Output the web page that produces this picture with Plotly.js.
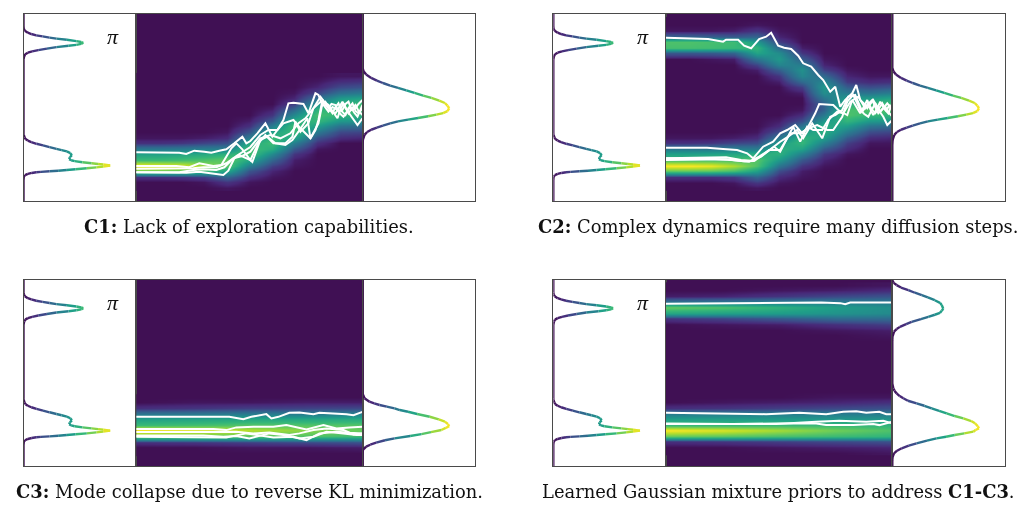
<!DOCTYPE html>
<html><head><meta charset="utf-8">
<script src="https://cdn.plot.ly/plotly-3.0.1.min.js"></script>
<style>html,body{margin:0;padding:0;background:#fff}#c{width:1024px;height:506px;filter:blur(.35px)}</style>
</head><body><div id="c"></div>
<script>
// ---------- densities: y position (0-100) and density (peak = 1) ----------
const priorY = [100,93,92,91,90,89.3,88.6,88,87.4,86.8,86.2,85.5,85,84.6,84,83.5,83,82.3,81.5,80.7,80,79.3,78.5,77.5,75.7,
  36,35.4,34,33.1,32.3,31.5,30.6,29.7,28.8,27.9,27.2,26.5,25.6,24.5,23.4,22.4,21.8,21.3,20.7,20.2,19.8,19.5,19,18.4,18,17.5,17,16.6,16.2,15.9,15.6,15.4,15,14.5,13.8,13.1,11.3,0];
const priorD = [0,0,.005,.015,.05,.09,.147,.22,.3,.38,.5,.61,.665,.69,.665,.61,.52,.38,.27,.17,.1,.05,.02,.008,0,
  0,.003,.012,.023,.05,.09,.15,.225,.3,.38,.44,.5,.54,.558,.535,.527,.55,.59,.68,.786,.86,.92,1,.92,.84,.73,.6,.5,.4,.3,.2,.147,.095,.05,.018,.004,0,0];
const targetAY = [100,71.2,69.4,67.6,65.8,64.4,63.1,61.7,60.5,59.2,57.8,56.4,55.1,53.7,52.4,51,49.6,48.1,47,46.2,45.3,44.4,43.5,42.6,41.5,40.3,39.2,38.1,36.9,35.4,32.7,30,0];
const targetAD = [0,0,.012,.042,.1,.166,.235,.32,.41,.506,.6,.7,.795,.885,.95,.98,1,.98,.93,.853,.757,.64,.525,.41,.32,.235,.166,.1,.054,.023,.004,0,0];
const targetBY = [100,38.9,36.3,34.5,33.6,32.7,31.8,30.9,30,29.1,27.9,26.4,25,23.8,22.5,21.4,20.4,19.3,18.2,17.1,16.1,14.8,13.8,12.5,11.4,10.4,8.6,5.9,0];
const targetBD = [0,0,.023,.08,.135,.197,.28,.37,.43,.525,.63,.776,.88,.95,.985,1,.96,.91,.79,.68,.55,.37,.26,.158,.09,.042,.004,0,0];
const targetCY = [100,99.3,98.2,97,95.7,94.3,92.9,91.6,90.4,88.9,87.5,86.3,84.3,83.2,82.1,81.1,80,78.8,77.3,76.1,74.6,73.4,72,69.3,67.5,
  44.3,41.6,40.4,38.9,37.5,36.3,35,33.6,32.3,30.9,29.6,28.2,26.8,25.5,24.1,22.9,21.4,20.2,19.3,18.4,17.5,16.6,15.7,14.8,13.6,12.1,10.9,9.5,8.2,6.8,5,3.2,0];
const targetCD = [0,.004,.015,.05,.1,.185,.26,.34,.41,.49,.55,.57,.588,.57,.55,.49,.415,.33,.223,.16,.088,.05,.02,.002,0,
  0,.012,.025,.05,.085,.127,.18,.28,.37,.454,.54,.627,.72,.82,.91,.954,.985,1,.96,.935,.83,.72,.62,.51,.4,.28,.19,.108,.055,.02,.004,0,0];

// ---------- heat maps: time columns (0-1), rows (0-100), one list per column ----------
const tenCols = [0,.1,.2,.3,.4,.5,.6,.7,.8,.9,1];
const fiveCols = [0,.25,.5,.75,1];
const rowsA = [7,10,13,16,19,22,25,28,31,34,37,40,43,46,49,52,55,58,61,64,67];
const heatA = [
 [0,0,5,65,100,55,42,25,5,1,0,0,0,0,0,0,0,0,0,0,0],
 [0,0,5,65,98,55,42,25,5,1,0,0,0,0,0,0,0,0,0,0,0],
 [0,0,6,62,92,57,44,26,6,1,0,0,0,0,0,0,0,0,0,0,0],
 [0,1,8,55,78,60,46,28,9,2,0,0,0,0,0,0,0,0,0,0,0],
 [1,6,18,44,62,64,50,28,12,4,1,0,0,0,0,0,0,0,0,0,0],
 [0,1,5,13,27,45,58,58,45,27,13,5,2,0,0,0,0,0,0,0,0],
 [0,0,1,3,8,18,32,48,57,55,43,27,14,6,2,0,0,0,0,0,0],
 [0,0,0,0,1,2,6,14,27,43,55,57,48,32,18,8,3,1,0,0,0],
 [0,0,0,0,0,0,0,1,5,12,25,40,53,58,50,35,20,9,3,1,0],
 [0,0,0,0,0,0,0,0,0,4,10,22,38,52,58,52,38,22,10,4,1],
 [0,0,0,0,0,0,0,0,0,3,9,20,36,50,58,55,42,26,12,5,1]
];
const rowsB = [7,10,13,16,19,22,25,28,31,34,37,40,43,46,49,52,55,58,61,64,67,70,73,76,79,82,85,88,91,94,97];
const heatB = [
 [0,0,5,65,100,55,42,25,5,1,0,0,0,0,0,0,0,0,0,0,0,0,0,0,14,58,60,18,1,0,0],
 [0,0,5,65,100,55,42,25,5,1,0,0,0,0,0,0,0,0,0,0,0,0,0,0,14,58,60,18,1,0,0],
 [0,0,5,64,96,56,43,25,6,1,0,0,0,0,0,0,0,0,0,0,0,0,0,1,15,57,58,17,1,0,0],
 [0,1,7,58,82,58,45,28,9,2,0,0,0,0,0,0,0,0,0,0,0,0,0,2,18,54,56,15,2,0,0],
 [1,6,18,42,60,62,48,27,11,4,1,0,0,0,0,0,0,0,0,0,0,2,9,24,44,52,38,18,6,1,0],
 [0,1,4,11,24,39,50,50,39,24,11,4,2,0,0,0,0,0,0,2,6,16,30,38,33,20,8,3,1,0,0],
 [0,0,1,2,6,14,28,43,53,52,39,23,11,4,1,0,0,2,8,19,31,35,27,15,6,2,0,0,0,0,0],
 [0,0,0,0,1,3,7,15,28,41,49,48,38,25,17,16,25,34,38,31,19,8,3,1,0,0,0,0,0,0,0],
 [0,0,0,0,0,0,1,4,8,15,27,40,52,60,58,50,38,26,15,7,3,1,0,0,0,0,0,0,0,0,0],
 [0,0,0,0,0,0,0,0,1,4,11,23,39,54,60,54,39,23,11,4,1,0,0,0,0,0,0,0,0,0,0],
 [0,0,0,0,0,0,0,0,1,3,9,20,37,52,60,57,43,27,13,5,1,0,0,0,0,0,0,0,0,0,0]
];
const rowsC = [7,10,13,16,19,22,25,28,31,34,37];
const heatC = [
 [0,0,5,65,100,55,42,25,5,0,0],
 [0,0,6,64,94,58,44,26,6,1,0],
 [0,1,8,62,84,62,46,28,8,1,0],
 [0,1,10,60,74,62,46,28,9,2,0],
 [0,2,12,55,66,62,48,30,10,2,0]
];
const rowsD = [7,10,13,16,19,22,25,28,31,34,37,40,43,46,49,52,55,58,61,64,67,70,73,76,79,82,85,88,91,94,97];
const heatD = [
 [0,0,5,65,100,55,42,25,5,0,0,0,0,0,0,0,0,0,0,0,0,0,0,0,6,45,65,25,2,0,0],
 [0,0,6,62,92,55,42,26,6,1,0,0,0,0,0,0,0,0,0,0,0,0,0,1,9,42,60,26,3,0,0],
 [0,1,8,58,80,56,40,26,8,2,0,0,0,0,0,0,0,0,0,0,0,0,0,2,14,40,50,28,6,1,0],
 [0,2,10,55,68,55,38,26,10,3,1,0,0,0,0,0,0,0,0,0,0,0,1,5,20,36,40,28,10,2,0],
 [1,3,12,52,60,52,38,26,12,5,1,0,0,0,0,0,0,0,0,0,0,1,2,8,20,32,34,26,13,4,1]
];

// ---------- white sample paths: step (0-226) and height (0-187) ----------
const a1t=[0,43,50,58,68,75,83,90,98,106,110,114,121,129,136,141,147,152,157,167,172,179,182,186,189,192,195,199,202,206,209,212,215,219,222,226];
const a1h=[48.7,48.3,47,50.3,49.3,48.3,50.3,51.7,57.7,64.3,57.7,60,67.7,77.7,64.3,71,81,97.7,98.3,97,87.7,107.7,106,96,99,92.7,97,96,90,91,97,99.3,91,92.7,97,101];
const a2t=[0,40,53,63,77,85,95,100,106,114,122,129,137,149,156,159,164,172,177,186,189,193,196,199,202,205,209,212,216,219,222,226];
const a2h=[35,35,33.7,37.7,35,36,52.7,57.7,51.7,41,57.7,66,57.7,57.7,64.3,79.3,69.3,77.7,92.7,101,96,92,87.7,94,97.7,90,86,93,97.7,90,87.7,92.7];
const a3t=[0,40,57,67,80,90,100,114,124,132,141,147,157,164,174,179,182,186,190,194,198,201,204,207,211,214,218,221,226];
const a3h=[32.3,32.3,32.7,33.7,33.7,37.7,45,54,66,71,71,77.7,81,72.7,62.7,71,81,101,96,92.7,87,82.7,92,97.7,90,86,80,76,82.7];
const a4t=[0,43,57,67,80,88,97,106,114,124,134,144,154,162,169,177,184,188,192,195,199,203,206,209,212,215,219,222,226];
const a4h=[28.7,28.7,31,31.7,31,33.7,42.7,45,49.3,62.7,66,62.7,67.7,77.7,82.7,92.7,104.3,99,96,90,87.7,94,99.3,93,87.7,92,96,90,86];
const a5t=[0,50,63,75,87,92,98,103,114,116,124,131,139,149,156,162,171,174,182,186,192,196,201,204,207,211,214,218,221,226];
const a5h=[28.7,28.3,29.3,27.7,26,30.3,42.7,46,41,39,61,64.3,57.7,56,61,69.3,82.7,62.7,77.7,97.7,89.3,94,91,87,84.3,90,94.3,88,84.3,96];

const b1t=[0,33,42,57,60,72,78,85,93,100,105,112,118,125,132,137,145,152,157,164,169,174,179,186,190,194,198,201,204,207,211,214,218,221,225];
const b1h=[163.3,162,162,159.3,161.3,161.3,155.3,152.7,162,164.3,168.3,155.3,153.3,152,145.3,137.7,134.3,126,121,109.3,114.3,94.3,101,107.7,116,101,97,92.7,97,101,94,89.3,94,97.7,92.7];
const b2t=[0,41,57,71,81,87,97,107,114,121,129,136,142,149,153,167,172,181,186,190,194,198,201,204,207,211,214,218,222,226];
const b2h=[53.3,53.3,52,51,47.7,42.7,54.3,59.3,67.7,71,76,67.7,74.3,87.7,97,96,91,86,101,94,87.7,95,101,92,86,93,99.3,92,87.7,98];
const b3t=[0,40,60,75,85,95,105,114,122,131,137,146,156,164,169,176,182,189,196,199,202,206,209,213,216,220,223,226];
const b3h=[42.7,43.3,43.7,41,40.3,44.3,52.7,59.3,64.3,71,62.7,77.7,62.7,84.3,86,91,104.3,106,89.3,93,97.7,91,87.7,93,97.7,90,96,91];
const b4t=[0,40,60,75,83,93,103,114,124,134,142,151,161,167,176,181,187,194,198,202,206,209,213,217,221,226];
const b4h=[41,41.7,41.7,40,39.3,44.3,51,51,67.7,67.7,72.7,76,71,71,84.3,99.3,106,91,87,84.3,92,97.7,90,84.3,76,81];
const b5t=[0,45,65,78,88,98,108,114,121,127,134,141,147,156,162,171,177,184,192,196,199,203,206,209,212,216,219,222,226];
const b5h=[42.7,42.3,41,39.7,40,47,54.3,49.3,62.7,74.3,59.3,74.3,71,71,81,89.3,87.7,99.3,104.3,97,92.7,98,101,94,87.7,92,94.3,89,84.3];

const c1t=[0,93,107,115,130,135,142,153,163,177,183,200,210,217,226];
const c1h=[49.3,49.3,47,49.3,52,47.7,49.3,53.3,53.7,52,53.3,52.7,52,51,54.3];
const c2t=[0,77,90,100,117,137,150,170,187,200,213,226];
const c2h=[37,37,36,38.7,39.3,39.3,41,36.7,41,37.7,38.7,39.3];
const c3t=[0,77,87,100,117,133,153,163,177,190,207,217,226];
const c3h=[34,34,34.3,34.3,32.7,33.7,31,32.7,36,37.7,36,31.7,32.7];
const c4t=[0,67,87,100,113,133,147,163,177,190,207,220,226];
const c4h=[30.7,30.7,29.3,30,27.7,32.7,31,27.7,29.3,34.3,32.7,31,31];
const c5t=[0,73,90,110,123,137,157,170,183,200,213,226];
const c5h=[29.3,28.7,28.7,32.7,31,28.7,29.3,26,32.7,34.3,33.3,32.7];

const d1t=[0,87,130,155,174,179,184,204,226];
const d1h=[162.7,163.3,164,164,163.3,162.3,164,163.7,164];
const d2t=[0,67,100,133,160,177,190,200,213,220,226];
const d2h=[53.3,52.7,52,53.3,52,54.3,55,53.3,54.3,52,52];
const d3t=[0,67,110,150,160,187,207,213,226];
const d3h=[42.7,42,42.7,42.7,41,41,42,41,44.3];
const d4t=[0,67,110,150,173,200,217,226];
const d4h=[42,42,42,44.3,45.3,44.3,45.3,42.7];

// ---------- text ----------
const captions = [
 "<b>C1:</b> Lack of exploration capabilities.",
 "<b>C2:</b> Complex dynamics require many diffusion steps.",
 "<b>C3:</b> Mode collapse due to reverse KL minimization.",
 "Learned Gaussian mixture priors to address <b>C1-C3</b>."
];
const piLabel = "π";

// ---------- layout constants (pixels) ----------
const W=1024,H=506;
const viridis=['#401054','#482878','#3e4989','#31688e','#26828e','#1f9e89','#35b779','#6ece58','#b5de2b','#fde725'];
const panels=[
 {x0:23.5,top:14,bot:201,capX:249,capY:226,cols:tenCols,rows:rowsA,heat:heatA,ry:targetAY,rd:targetAD,paths:[[a1t,a1h],[a2t,a2h],[a3t,a3h],[a4t,a4h],[a5t,a5h]]},
 {x0:553.3,top:14,bot:201,capX:778,capY:226,cols:tenCols,rows:rowsB,heat:heatB,ry:targetAY,rd:targetAD,paths:[[b1t,b1h],[b2t,b2h],[b3t,b3h],[b4t,b4h],[b5t,b5h]]},
 {x0:23.5,top:279.5,bot:466,capX:249,capY:491,cols:fiveCols,rows:rowsC,heat:heatC,ry:targetBY,rd:targetBD,paths:[[c1t,c1h],[c2t,c2h],[c3t,c3h],[c4t,c4h],[c5t,c5h]]},
 {x0:553.3,top:279.5,bot:466,capX:778,capY:491,cols:fiveCols,rows:rowsD,heat:heatD,ry:targetCY,rd:targetCD,paths:[[d1t,d1h],[d2t,d2h],[d3t,d3h],[d4t,d4h]]}
];
const sideW=112.7, midW=226.3, densMax=1.3, heatGamma=.65;
function hexRgb(h){return [1,3,5].map(i=>parseInt(h.substr(i,2),16));}
function vir(t){t=Math.max(0,Math.min(.9999,t))*(viridis.length-1);const i=Math.floor(t),f=t-i,a=hexRgb(viridis[i]),b=hexRgb(viridis[i+1]);
  return 'rgb('+a.map((v,k)=>Math.round(v+(b[k]-v)*f)).join(',')+')';}

const traces=[],layout={width:W,height:H,margin:{l:0,r:0,t:0,b:0},paper_bgcolor:'#fff',plot_bgcolor:'#fff',showlegend:false,shapes:[],annotations:[]};
function axis(d0,d1,rng){return {domain:[d0,d1],range:rng,showticklabels:false,ticks:'',showgrid:false,zeroline:false,showline:true,mirror:true,linecolor:'#4a4a4a',linewidth:1,fixedrange:true};}
function curve(xa,ya,ys,ds){
  for(let i=0;i<ys.length-1;i++){
    traces.push({type:'scatter',mode:'lines',xaxis:xa,yaxis:ya,x:[ds[i],ds[i+1]],y:[ys[i],ys[i+1]],cliponaxis:false,
      line:{color:vir((ds[i]+ds[i+1])/2),width:2.4},hoverinfo:'skip'});
  }
}
panels.forEach((p,k)=>{
  const n=k*3;
  const xs=[p.x0,p.x0+sideW,p.x0+sideW+midW,p.x0+sideW+midW+sideW];
  const yd=[1-p.bot/H,1-p.top/H];
  const ids=[n+1,n+2,n+3];
  const rngs=[[0,densMax],[0,1],[0,densMax]];
  ids.forEach((id,j)=>{
    layout['xaxis'+id]=Object.assign(axis(xs[j]/W,xs[j+1]/W,rngs[j]),{anchor:'y'+id});
    layout['yaxis'+id]=Object.assign(axis(yd[0],yd[1],[0,100]),{anchor:'x'+id});
  });
  layout.shapes.push({type:'rect',xref:'x'+ids[1]+' domain',yref:'y'+ids[1]+' domain',x0:0,x1:1,y0:0,y1:1,fillcolor:viridis[0],line:{width:0},layer:'below'});
  curve('x'+ids[0],'y'+ids[0],priorY,priorD);
  curve('x'+ids[2],'y'+ids[2],p.ry,p.rd);
  traces.push({type:'heatmap',xaxis:'x'+ids[1],yaxis:'y'+ids[1],x:p.cols,y:p.rows,z:p.heat,transpose:true,
    zmin:0,zmax:100,zsmooth:'best',showscale:false,hoverinfo:'skip',
    colorscale:viridis.map((c,i)=>[Math.pow(i/(viridis.length-1),1/heatGamma),c])});
  p.paths.forEach(([t,h])=>{
    traces.push({type:'scatter',mode:'lines',xaxis:'x'+ids[1],yaxis:'y'+ids[1],x:t.map(v=>v/226),y:h.map(v=>v*100/187),
      line:{color:'#fff',width:2},hoverinfo:'skip'});
  });
  layout.annotations.push({xref:'paper',yref:'paper',x:p.capX/W,y:1-p.capY/H,text:captions[k],showarrow:false,xanchor:'center',yanchor:'middle',
    font:{family:'DejaVu Serif',size:17.9,color:'#111'}});
  layout.annotations.push({xref:'paper',yref:'paper',x:(p.x0+89.5)/W,y:1-(p.top+22.5)/H,text:'<i>'+piLabel+'</i>',showarrow:false,xanchor:'center',yanchor:'middle',
    font:{family:'Liberation Serif',size:22,color:'#111'}});
});
Plotly.newPlot('c',traces,layout,{staticPlot:true,displayModeBar:false});
</script></body></html>
